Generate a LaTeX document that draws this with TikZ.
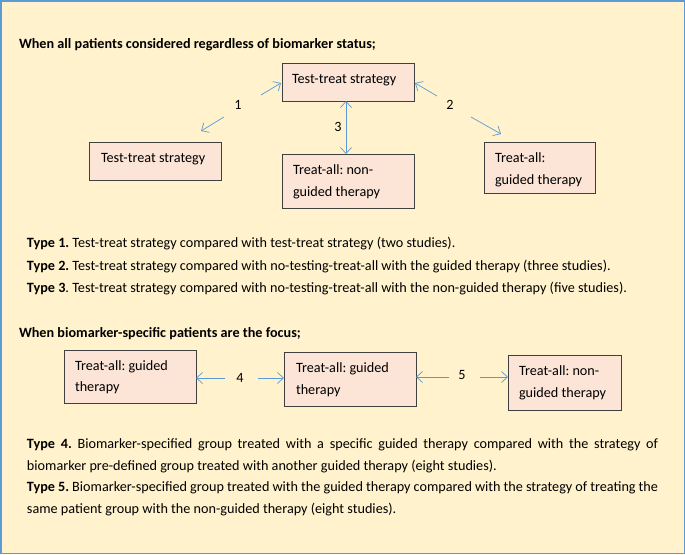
\documentclass[tikz,border=0pt]{standalone}
\usepackage{fontspec}
\setmainfont{Carlito}
\frenchspacing
\usetikzlibrary{arrows.meta,calc}
\definecolor{bgyel}{RGB}{255,242,204}
\definecolor{frameblue}{RGB}{91,155,213}
\definecolor{boxfill}{RGB}{252,228,214}
\definecolor{boxline}{RGB}{64,64,64}
\definecolor{arrblue}{RGB}{91,155,213}
\begin{document}
\begin{tikzpicture}[x=1pt,y=-1pt,
  every node/.style={inner sep=0pt,outer sep=0pt,font=\fontsize{14.2}{22.5}\selectfont\frenchspacing},
  box/.style={draw=boxline,fill=boxfill,line width=0.9pt,rectangle},
  txt/.style={anchor=base west},
  head/.style={anchor=base west,font=\fontsize{14.2}{16}\selectfont\bfseries\frenchspacing},
  arr/.style={draw=arrblue,line width=0.7pt,-{Straight Barb[length=6pt,width=11pt]}},
  darr/.style={draw=arrblue,line width=0.7pt,{Straight Barb[length=6pt,width=11pt]}-{Straight Barb[length=6pt,width=11pt]}},
  para/.style={anchor=base west,text width=631pt,align=justify}]
\useasboundingbox (0,0) rectangle (685,554);
\fill[bgyel] (0,0) rectangle (685,554);
\draw[frameblue,line width=1.5pt] (0.75,0.75) rectangle (684.25,553.25);

% heading 1
\node[head] (h1) at (19,48) {When all patients considered regardless of biomarker status;};

% boxes, upper diagram
\node[box,minimum width=132pt,minimum height=38pt] (A) at (348,82) {};
\node[box,minimum width=132pt,minimum height=38pt] (B) at (155.5,161) {};
\node[box,minimum width=132pt,minimum height=54pt] (C) at (348,181) {};
\node[box,minimum width=111pt,minimum height=51pt] (D) at (540,168) {};

\node[txt] (At) at (292,83) {Test-treat strategy};
\node[txt] (Bt) at (101,162) {Test-treat strategy};
\node[txt] (Ct1) at (293,174) {Treat-all: non-};
\node[txt] (Ct2) at (293,196) {guided therapy};
\node[txt] (Dt1) at (495,162) {Treat-all:};
\node[txt] (Dt2) at (495,184) {guided therapy};

% arrows upper diagram
\node (l1) at (238,105) {1};
\node (l2) at (450,105) {2};
\node (l3) at (338,127) {3};
\coordinate (a1s) at (261,95);  \coordinate (a1e) at (281,83);
\coordinate (b1s) at (224,117); \coordinate (b1e) at (201,131);
\coordinate (a2s) at (437,96);  \coordinate (a2e) at (415,83);
\coordinate (b2s) at (471,117); \coordinate (b2e) at (501,134);
\draw[arr] (a1s) -- (a1e);
\draw[arr] (b1s) -- (b1e);
\draw[arr] (a2s) -- (a2e);
\draw[arr] (b2s) -- (b2e);
\draw[darr] ([xshift=-2pt]A.south) -- ([xshift=-2pt]A.south |- C.north);

% type lines
\node[txt] (t1) at (27,247) {\textbf{Type 1.} Test-treat strategy compared with test-treat strategy (two studies).};
\node[txt] (t2) at (27,270) {\textbf{Type 2.} Test-treat strategy compared with no-testing-treat-all with the guided therapy (three studies).};
\node[txt] (t3) at (27,292) {\textbf{Type 3}. Test-treat strategy compared with no-testing-treat-all with the non-guided therapy (five studies).};

% heading 2
\node[head] (h2) at (19,337) {When biomarker-specific patients are the focus;};

% boxes lower diagram
\node[box,minimum width=132pt,minimum height=53pt] (E) at (130,376.5) {};
\node[box,minimum width=132pt,minimum height=54pt] (F) at (350,379) {};
\node[box,minimum width=113pt,minimum height=55pt] (G) at (564.5,382.5) {};

\node[txt] (Et1) at (75,370) {Treat-all: guided};
\node[txt] (Et2) at (75,391) {therapy};
\node[txt] (Ft1) at (296,372) {Treat-all: guided};
\node[txt] (Ft2) at (296,394) {therapy};
\node[txt] (Gt1) at (519,375) {Treat-all: non-};
\node[txt] (Gt2) at (519,397) {guided therapy};

\node (l4) at (240,378) {4};
\node (l5) at (462,375) {5};
\coordinate (c4a) at (225,378); \coordinate (c4b) at (258,378);
\coordinate (c5a) at (449,377); \coordinate (c5b) at (480,377);
\draw[arr] (c4a) -- (E.east |- c4a);
\draw[arr] (c4b) -- (F.west |- c4b);
\draw[arr] (c5a) -- (F.east |- c5a);
\draw[arr] (c5b) -- (G.west |- c5b);

% paragraphs
\node[para] (t4) at (27,448) {\textbf{Type 4.} Biomarker-specified group treated with a specific guided therapy compared with the strategy of biomarker pre-defined group treated with another guided therapy (eight studies).};
\node[para] (t5) at (27,491) {\textbf{Type 5.} Biomarker-specified group treated with the guided therapy compared with the strategy of treating the same patient group with the non-guided therapy (eight studies).};
\end{tikzpicture}
\end{document}
